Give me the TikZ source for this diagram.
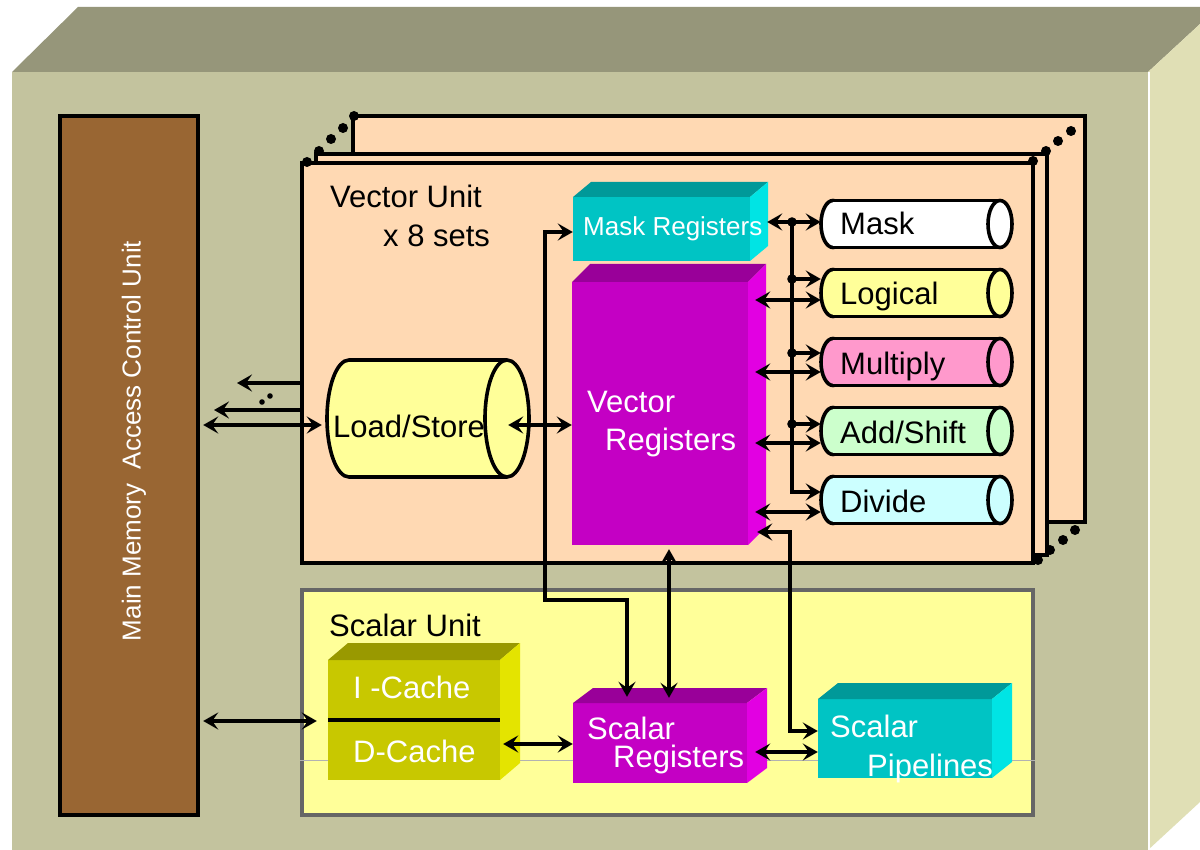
\documentclass[tikz,border=0pt]{standalone}
\usepackage{fontspec}
\setmainfont{Liberation Sans}
\usetikzlibrary{arrows.meta,fit,calc}
\definecolor{outF}{HTML}{C3C39E}
\definecolor{outT}{HTML}{96967A}
\definecolor{outS}{HTML}{E0DFB5}
\definecolor{brownC}{HTML}{996633}
\definecolor{peach}{HTML}{FFD9B3}
\definecolor{scalY}{HTML}{FFFF99}
\definecolor{magF}{HTML}{C400C4}
\definecolor{magT}{HTML}{990099}
\definecolor{magS}{HTML}{E200E2}
\definecolor{cyaF}{HTML}{00C4C4}
\definecolor{cyaT}{HTML}{009999}
\definecolor{cyaS}{HTML}{00E4E4}
\definecolor{olvF}{HTML}{C8C800}
\definecolor{olvT}{HTML}{999900}
\definecolor{olvS}{HTML}{E4E400}
\definecolor{cLog}{HTML}{FFFF99}
\definecolor{cMul}{HTML}{FF99CC}
\definecolor{cAdd}{HTML}{CCFFCC}
\definecolor{cDiv}{HTML}{CCFFFF}
% cuboid: name, x1, y1, x2, y2 (front face), dx, dy (depth), colour prefix
\newcommand\cuboid[8]{%
  \fill[#8F] (#2,#3) rectangle (#4,#5);
  \fill[#8T] (#2,#3) -- (#2+#6,#3-#7) -- (#4+#6,#3-#7) -- (#4,#3) -- cycle;
  \fill[#8S] (#4,#3) -- (#4+#6,#3-#7) -- (#4+#6,#5-#7) -- (#4,#5) -- cycle;
  \path (#2,#3) coordinate (#1nw) (#4,#5) coordinate (#1se);
  \node[fit=(#1nw)(#1se), inner sep=0pt] (#1) {};
}
% cylinder: name, left centre x, right centre x, centre y, rx, ry, colour
\newcommand\cylin[7]{%
  \filldraw[fill=#7, line width=3.6pt] (#2,#4) ellipse [x radius=#5pt, y radius=#6pt];
  \fill[#7] (#2,#4-#6) rectangle (#3,#4+#6);
  \draw[line width=3.6pt] (#2,#4-#6) -- (#3,#4-#6) (#2,#4+#6) -- (#3,#4+#6);
  \filldraw[fill=#7, line width=3.6pt] (#3,#4) ellipse [x radius=#5pt, y radius=#6pt];
  \path (#2-#5,#4-#6) coordinate (#1nw) (#3+#5,#4+#6) coordinate (#1se);
  \node[fit=(#1nw)(#1se), inner sep=0pt] (#1) {};
}
\begin{document}
\begin{tikzpicture}[x=1pt,y=-1pt,
  lbl/.style={font=\fontsize{31}{36}\selectfont, inner sep=0pt, anchor=base west},
  wlbl/.style={lbl, text=white},
  vbox/.style={draw=black, line width=3.6pt, fill=peach, inner sep=0pt},
  conn/.style={line width=4pt},
  tipA/.tip={Stealth[length=15pt,width=17pt,inset=6pt]},
  sgl/.style={conn, -tipA},
  dbl/.style={conn, tipA-tipA}]
\useasboundingbox (0,0) rectangle (1200,850);
\fill[white] (0,0) rectangle (1200,850);
% outer cabinet
\fill[outF] (12,72) rectangle (1148,850);
\fill[outT] (12,72) -- (78,7) -- (1200,7) -- (1200,24) -- (1148,72) -- cycle;
\fill[outS] (1148,72) -- (1200,24) -- (1200,802) -- (1148,850) -- cycle;
\draw[white, line width=2pt] (1149,72) -- (1149,850);
% main memory access control unit
\node[draw=black, line width=3.4pt, fill=brownC, minimum width=138pt, minimum height=699pt, inner sep=0pt] (mm) at (129,465.5) {};
\node[rotate=90, text=white, font=\fontsize{26}{30}\selectfont, inner sep=0pt] (mmT) at (134,441) {Main Memory\ \ Access Control Unit};
% vector unit stack
\node[vbox, minimum width=732pt, minimum height=406pt] (vu1) at (719,319) {};
\node[vbox, minimum width=731pt, minimum height=401pt] (vu2) at (681.5,354.5) {};
\node[vbox, minimum width=731pt, minimum height=400pt] (vu3) at (667.5,363) {};
\foreach \p in {(307,162),(319,151),(331,139),(343,128),(354,116),
                (1033,161),(1046,151),(1058,141),(1071,131),
                (1038,560),(1050,550),(1063,540),(1075,530)}
  \fill \p circle (5pt);
\node[lbl] (vuT) at (330,208) {Vector Unit};
\node[lbl] (vuT2) at (383,247) {x 8 sets};
% scalar unit
\node[draw=black!60, line width=3.4pt, fill=scalY, minimum width=731pt, minimum height=225pt, inner sep=0pt] (su) at (667.5,702.5) {};
\draw[black!30, line width=0.8pt] (su.west |- 0,760) -- (su.east |- 0,760);
\node[lbl] (suT) at (329,636) {Scalar Unit};
% 3D boxes
\cuboid{mreg}{573}{197}{750}{261}{18}{15}{cya}
\cuboid{vreg}{572}{282}{748}{545}{18}{18}{mag}
\cuboid{sreg}{573}{703}{747}{783}{20}{15}{mag}
\cuboid{spipe}{818}{699}{992}{778}{20}{16}{cya}
\cuboid{cache}{328}{660}{500}{780}{20}{17}{olv}
\draw[line width=3.4pt] (cache.west |- 0,720) -- (cache.east |- 0,720);
% cylinders
\cylin{ls}{349}{507}{418.5}{22}{58.5}{scalY}
\cylin{mask}{833}{1000}{224}{12}{23.5}{white}
\cylin{logic}{833}{1000}{293}{12}{23.5}{cLog}
\cylin{mult}{833}{1000}{362}{12}{23.5}{cMul}
\cylin{adds}{833}{1000}{431}{12}{23.5}{cAdd}
\cylin{divd}{833}{1000}{500}{12}{23.5}{cDiv}
% connectors: memory side
\coordinate (o1) at (237,383);
\coordinate (o2) at (214,410);
\draw[sgl] (vu3.west |- 0,383) -- (o1);
\draw[sgl] (vu3.west |- 0,410) -- (o2);
\fill (262,402) circle (2.8pt) (270,396) circle (2.8pt);
\draw[dbl, shorten <=3.5pt, shorten >=5pt] (mm.east |- 0,425) -- (ls.west |- 0,425);
\draw[dbl, shorten <=3.5pt, shorten >=11pt] (mm.east |- 0,721) -- (cache.west |- 0,721);
% load/store to vector registers
\draw[dbl, shorten <=-21pt] (ls.east |- 0,425) -- (vreg.west |- 0,425);
% mask bus
\coordinate (bus) at (792,222);
\draw[dbl, shorten <=17pt] (mreg.east |- 0,222) -- (mask.west |- 0,222);
\draw[sgl] (bus) -- (bus |- 0,492) -- (divd.west |- 0,492);
\draw[sgl] (bus |- 0,279) -- (logic.west |- 0,279);
\draw[sgl] (bus |- 0,353) -- (mult.west |- 0,353);
\draw[sgl] (bus |- 0,424) -- (adds.west |- 0,424);
\foreach \yy in {222,279,353,424} \fill (792,\yy) circle (4.8pt);
% vector registers to function pipes
\draw[dbl, shorten <=7pt] (vreg.east |- 0,300) -- (logic.west |- 0,300);
\draw[dbl, shorten <=7pt] (vreg.east |- 0,372) -- (mult.west |- 0,372);
\draw[dbl, shorten <=7pt] (vreg.east |- 0,443) -- (adds.west |- 0,443);
\draw[dbl, shorten <=7pt] (vreg.east |- 0,512) -- (divd.west |- 0,512);
% vector registers to scalar pipelines
\draw[dbl, shorten <=9pt] (vreg.east |- 0,532) -- (790,532) |- (spipe.west |- 0,731);
% vector registers <-> scalar registers
\draw[dbl, shorten <=4pt, shorten >=5pt] (vreg.south -| 669,0) -- (sreg.north -| 669,0);
% mask registers <-> scalar registers
\draw[dbl, shorten >=6pt] (mreg.west |- 0,232) -- (545,232) |- (627,600) -- (sreg.north -| 627,0);
% scalar unit links
\draw[dbl, shorten <=8pt] (sreg.east |- 0,752) -- (spipe.west |- 0,752);
\draw[dbl, shorten <=3pt] (cache.east |- 0,744) -- (sreg.west |- 0,744);
% labels
\node[wlbl, font=\fontsize{26}{30}\selectfont] (mregT) at (583,236) {Mask Registers};
\node[wlbl] (vregT1) at (587,413) {Vector};
\node[wlbl] (vregT2) at (605,450) {Registers};
\node[wlbl] (sregT1) at (587,739) {Scalar};
\node[wlbl] (sregT2) at (613,767) {Registers};
\node[wlbl] (spipeT1) at (830,737) {Scalar};
\node[wlbl] (spipeT2) at (867,776) {Pipelines};
\node[wlbl] (icT) at (353,698) {I -Cache};
\node[wlbl] (dcT) at (353,762) {D-Cache};
\node[lbl] (lsT) at (333,437) {Load/Store};
\node[lbl] (maskT) at (840,235) {Mask};
\node[lbl] (logicT) at (840,305) {Logical};
\node[lbl] (multT) at (840,375) {Multiply};
\node[lbl] (addsT) at (840,443) {Add/Shift};
\node[lbl] (divdT) at (840,512) {Divide};
\end{tikzpicture}
\end{document}
